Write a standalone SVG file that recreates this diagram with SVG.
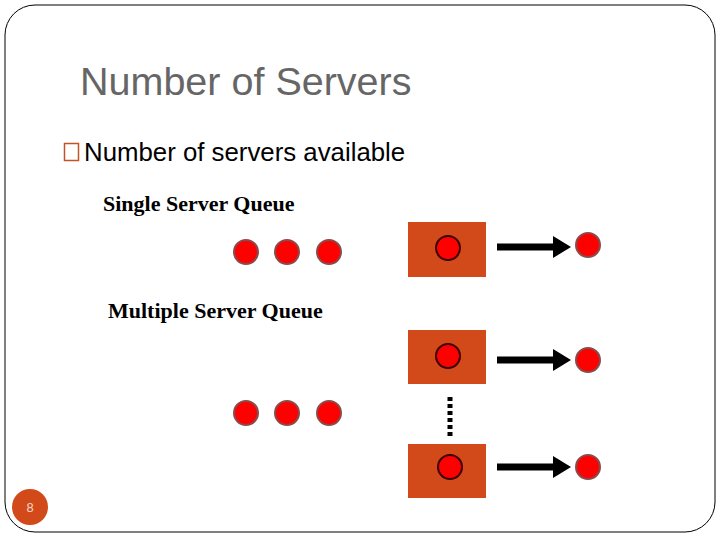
<svg xmlns="http://www.w3.org/2000/svg" width="720" height="540" viewBox="0 0 720 540">
<style>
.title{font-family:"Liberation Sans",Arial,sans-serif;font-size:39.5px;fill:#666666}
.bullet{font-family:"Liberation Sans",Arial,sans-serif;font-size:25.8px;fill:#000}
.lbl{font-family:"Liberation Serif","Times New Roman",serif;font-size:22px;font-weight:bold;fill:#000}
.cust{fill:#ff0000;stroke:#8b4a4a;stroke-width:2}
.srv{fill:#d24a1a}
.inner{fill:#ff0000;stroke:#3a0000;stroke-width:2}
.arr{stroke:#000;stroke-width:7;fill:none}
</style>
<defs>
<marker id="ah" markerWidth="18" markerHeight="22" refX="0" refY="11" orient="auto" markerUnits="userSpaceOnUse">
<path d="M0,0 L18,11 L0,22 Z" fill="#000"/>
</marker>
</defs>
<rect x="5" y="5" width="710" height="527" rx="30" ry="30" fill="#fff" stroke="#000" stroke-width="1"/>
<text class="title" x="80" y="95">Number of Servers</text>
<rect x="64.500" y="143.500" width="14" height="17" fill="none" stroke="#c0552a" stroke-width="1.500"/>
<text class="bullet" x="84" y="161">Number of servers available</text>
<text class="lbl" x="103" y="211">Single Server Queue</text>
<text class="lbl" x="108" y="318">Multiple Server Queue</text>
<g id="queue1">
<circle class="cust" cx="246" cy="252" r="12"/>
<circle class="cust" cx="287" cy="252" r="12"/>
<circle class="cust" cx="329" cy="252" r="12"/>
</g>
<g id="queue2">
<circle class="cust" cx="246" cy="413" r="12"/>
<circle class="cust" cx="287" cy="413" r="12"/>
<circle class="cust" cx="329" cy="413" r="12"/>
</g>
<g id="server1">
<rect class="srv" x="408" y="222" width="78" height="55"/>
<circle class="inner" cx="448" cy="248" r="12"/>
</g>
<g id="server2">
<rect class="srv" x="408" y="330" width="78" height="54"/>
<circle class="inner" cx="448" cy="356" r="12"/>
</g>
<g id="server3">
<rect class="srv" x="408" y="444" width="78" height="54"/>
<circle class="inner" cx="450" cy="467" r="12"/>
</g>
<g id="out1"><circle class="cust" cx="588" cy="245" r="12"/></g>
<g id="out2"><circle class="cust" cx="588" cy="360" r="12"/></g>
<g id="out3"><circle class="cust" cx="588" cy="467" r="12"/></g>
<g id="connectors">
<line class="arr" x1="497" y1="247" x2="553" y2="247" marker-end="url(#ah)"/>
<line class="arr" x1="497" y1="360" x2="553" y2="360" marker-end="url(#ah)"/>
<line class="arr" x1="497" y1="467" x2="553" y2="467" marker-end="url(#ah)"/>
<line x1="450" y1="397" x2="450" y2="437" stroke="#000" stroke-width="5" stroke-dasharray="4,3"/>
</g>
<g id="pagenum">
<circle cx="30" cy="507" r="18" fill="#d24a1a"/>
<text x="30" y="512" text-anchor="middle" font-family="Liberation Sans, Arial, sans-serif" font-size="13" fill="#f5d8c8">8</text>
</g>
</svg>
